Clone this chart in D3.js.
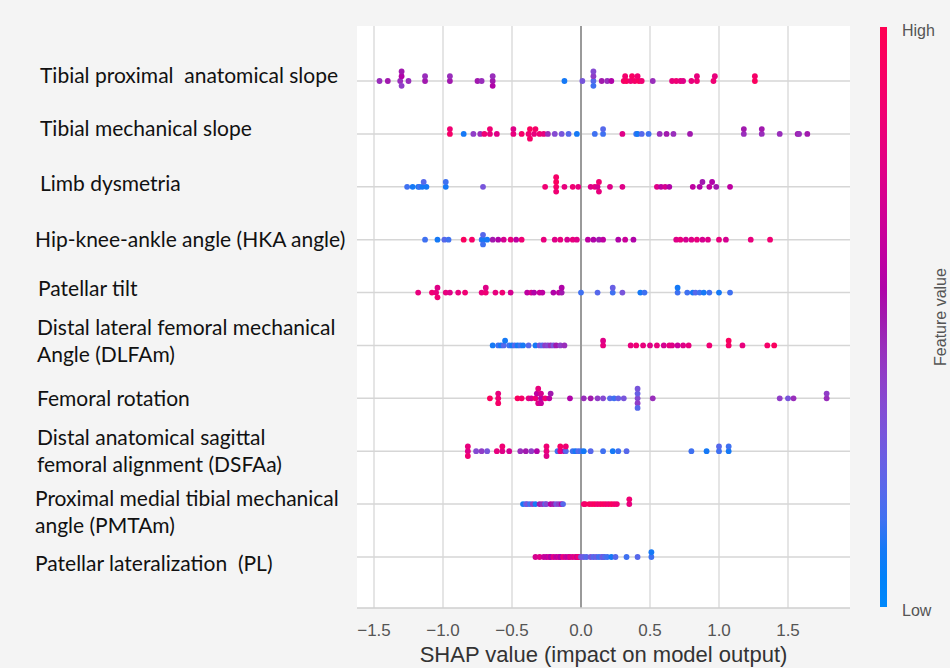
<!DOCTYPE html>
<html>
<head>
<meta charset="utf-8">
<script src="https://cdn.jsdelivr.net/npm/d3@7"></script>
<style>
  body { margin: 0; background: #f4f4f4; }
  svg { display: block; }
  .lbl { white-space: pre; }
</style>
</head>
<body>
<svg id="chart" width="950" height="668"></svg>
<script>
// feature labels, top to bottom (multi-line labels split into lines)
var featureLabels = [
  ["Tibial proximal  anatomical slope"],
  ["Tibial mechanical slope"],
  ["Limb dysmetria"],
  ["Hip-knee-ankle angle (HKA angle)"],
  ["Patellar tilt"],
  ["Distal lateral femoral mechanical", "Angle (DLFAm)"],
  ["Femoral rotation"],
  ["Distal anatomical sagittal", "femoral alignment (DSFAa)"],
  ["Proximal medial tibial mechanical", "angle (PMTAm)"],
  ["Patellar lateralization  (PL)"]
];

// [shap value, normalized feature value] per sample
var tibialProximalSlope = [[-1.46,0.45],[-1.40,0.5],[-1.31,0.45],[-1.30,0.55],[-1.30,0.4],[-1.30,0.5],[-1.25,0.45],[-1.13,0.5],[-1.13,0.45],[-0.95,0.5],[-0.95,0.45],[-0.75,0.5],[-0.72,0.45],[-0.64,0.5],[-0.64,0.45],[-0.64,0.55],[-0.12,0.1],[0.01,0.3],[0.09,0.2],[0.09,0.4],[0.09,0.15],[0.09,0.35],[0.15,0.5],[0.19,0.45],[0.22,0.55],[0.31,0.9],[0.33,0.95],[0.36,0.85],[0.39,0.9],[0.42,0.95],[0.44,0.85],[0.32,0.88],[0.37,0.92],[0.41,0.86],[0.52,0.45],[0.66,0.8],[0.69,0.85],[0.72,0.8],[0.74,0.75],[0.80,0.8],[0.84,0.85],[0.84,0.8],[0.96,0.85],[0.97,0.8],[1.26,0.95],[1.26,0.9]];
var tibialMechanicalSlope = [[-0.95,0.9],[-0.95,0.85],[-0.85,0.1],[-0.78,0.4],[-0.73,0.45],[-0.70,0.85],[-0.66,0.8],[-0.66,0.85],[-0.61,0.75],[-0.49,0.8],[-0.49,0.75],[-0.43,0.9],[-0.38,0.85],[-0.37,0.95],[-0.37,0.9],[-0.34,0.8],[-0.33,0.9],[-0.30,0.85],[-0.27,0.8],[-0.24,0.45],[-0.19,0.35],[-0.14,0.3],[-0.09,0.2],[-0.03,0.1],[0.10,0.15],[0.16,0.15],[0.16,0.2],[0.30,0.75],[0.40,0.15],[0.41,0.1],[0.44,0.2],[0.49,0.15],[0.57,0.45],[0.62,0.5],[0.67,0.45],[0.79,0.5],[1.18,0.45],[1.18,0.5],[1.31,0.45],[1.31,0.5],[1.44,0.45],[1.57,0.5],[1.58,0.45],[1.64,0.5]];
var limbDysmetria = [[-1.26,0.15],[-1.22,0.1],[-1.18,0.1],[-1.17,0.15],[-1.15,0.1],[-1.14,0.2],[-1.12,0.1],[-0.98,0.1],[-0.98,0.15],[-0.71,0.3],[-0.26,0.85],[-0.18,0.9],[-0.18,0.95],[-0.18,0.85],[-0.18,0.9],[-0.12,0.8],[-0.06,0.85],[-0.02,0.8],[0.07,0.75],[0.10,0.8],[0.12,0.7],[0.13,0.85],[0.13,0.8],[0.21,0.75],[0.30,0.75],[0.55,0.75],[0.58,0.6],[0.61,0.7],[0.64,0.55],[0.81,0.6],[0.86,0.55],[0.88,0.5],[0.93,0.6],[0.95,0.55],[0.98,0.5],[1.08,0.6]];
var hkaAngle = [[-1.13,0.15],[-1.04,0.1],[-0.99,0.2],[-0.96,0.15],[-0.85,0.95],[-0.79,0.9],[-0.72,0.15],[-0.71,0.1],[-0.71,0.2],[-0.71,0.15],[-0.68,0.1],[-0.64,0.5],[-0.60,0.55],[-0.56,0.7],[-0.51,0.8],[-0.47,0.6],[-0.43,0.85],[-0.27,0.8],[-0.19,0.75],[-0.15,0.8],[-0.10,0.7],[-0.06,0.8],[-0.03,0.75],[0.05,0.6],[0.09,0.55],[0.13,0.5],[0.16,0.6],[0.27,0.55],[0.32,0.65],[0.38,0.55],[0.69,0.75],[0.72,0.8],[0.76,0.7],[0.80,0.75],[0.84,0.8],[0.88,0.7],[0.92,0.75],[1.0,0.8],[1.05,0.7],[1.23,0.8],[1.37,0.85]];
var patellarTilt = [[-1.18,0.8],[-1.08,0.85],[-1.05,0.8],[-1.04,0.75],[-1.04,0.85],[-0.98,0.8],[-0.95,0.75],[-0.89,0.8],[-0.84,0.85],[-0.72,0.8],[-0.69,0.85],[-0.69,0.75],[-0.62,0.8],[-0.57,0.85],[-0.51,0.7],[-0.39,0.6],[-0.36,0.7],[-0.34,0.55],[-0.30,0.65],[-0.28,0.6],[-0.20,0.55],[-0.16,0.6],[-0.14,0.5],[-0.14,0.55],[0.0,0.15],[0.12,0.2],[0.23,0.15],[0.23,0.25],[0.30,0.3],[0.43,0.1],[0.46,0.15],[0.70,0.15],[0.70,0.1],[0.77,0.15],[0.81,0.1],[0.83,0.2],[0.86,0.15],[0.89,0.1],[0.93,0.15],[1.0,0.1],[1.08,0.15]];
var dlfam = [[-0.64,0.1],[-0.60,0.15],[-0.58,0.1],[-0.56,0.2],[-0.55,0.1],[-0.52,0.15],[-0.50,0.1],[-0.48,0.2],[-0.46,0.1],[-0.44,0.15],[-0.42,0.1],[-0.38,0.2],[-0.33,0.1],[-0.30,0.3],[-0.28,0.2],[-0.26,0.4],[-0.24,0.35],[-0.22,0.45],[-0.20,0.3],[-0.18,0.5],[-0.15,0.4],[-0.12,0.45],[0.16,0.8],[0.16,0.75],[0.36,0.8],[0.40,0.85],[0.45,0.8],[0.50,0.75],[0.55,0.8],[0.60,0.7],[0.64,0.8],[0.66,0.75],[0.70,0.65],[0.74,0.75],[0.78,0.8],[0.93,0.85],[1.07,0.9],[1.07,0.95],[1.17,0.8],[1.35,0.9],[1.40,0.95]];
var femoralRotation = [[-0.66,0.95],[-0.60,0.85],[-0.60,0.8],[-0.60,0.9],[-0.46,0.95],[-0.43,0.9],[-0.38,0.8],[-0.36,0.7],[-0.33,0.85],[-0.32,0.6],[-0.31,0.75],[-0.31,0.8],[-0.29,0.55],[-0.29,0.7],[-0.29,0.65],[-0.26,0.85],[-0.23,0.6],[-0.22,0.5],[-0.08,0.55],[0.02,0.45],[0.07,0.5],[0.12,0.4],[0.16,0.35],[0.21,0.2],[0.24,0.15],[0.27,0.25],[0.31,0.3],[0.41,0.35],[0.41,0.25],[0.41,0.4],[0.41,0.3],[0.41,0.2],[0.52,0.45],[1.44,0.4],[1.50,0.3],[1.54,0.45],[1.78,0.45],[1.78,0.4]];
var dsfaa = [[-0.82,0.75],[-0.82,0.8],[-0.82,0.85],[-0.76,0.35],[-0.72,0.4],[-0.68,0.3],[-0.61,0.8],[-0.57,0.75],[-0.57,0.85],[-0.52,0.7],[-0.44,0.45],[-0.40,0.5],[-0.36,0.4],[-0.32,0.55],[-0.25,0.8],[-0.25,0.85],[-0.25,0.75],[-0.17,0.15],[-0.15,0.8],[-0.15,0.9],[-0.12,0.6],[-0.11,0.2],[-0.11,0.85],[-0.06,0.15],[-0.04,0.1],[-0.02,0.2],[0.0,0.15],[0.02,0.1],[0.07,0.2],[0.16,0.15],[0.23,0.1],[0.27,0.15],[0.33,0.2],[0.80,0.15],[0.91,0.1],[1.00,0.15],[1.00,0.2],[1.07,0.1],[1.07,0.15]];
var pmtam = [[-0.42,0.1],[-0.40,0.2],[-0.39,0.3],[-0.37,0.15],[-0.35,0.4],[-0.33,0.1],[-0.30,0.5],[-0.28,0.45],[-0.26,0.2],[-0.25,0.35],[-0.22,0.6],[-0.20,0.5],[-0.18,0.3],[-0.16,0.4],[-0.14,0.55],[-0.13,0.2],[0.02,0.85],[0.03,0.9],[0.06,0.95],[0.08,0.9],[0.10,0.95],[0.12,0.85],[0.14,0.9],[0.16,0.95],[0.18,0.9],[0.20,0.85],[0.22,0.95],[0.24,0.9],[0.26,0.85],[0.35,0.8],[0.35,0.85]];
var patellarLateralization = [[-0.33,0.7],[-0.30,0.75],[-0.27,0.65],[-0.25,0.6],[-0.23,0.7],[-0.22,0.55],[-0.20,0.75],[-0.18,0.6],[-0.16,0.7],[-0.15,0.55],[-0.13,0.8],[-0.11,0.65],[-0.09,0.6],[-0.08,0.75],[-0.06,0.7],[-0.04,0.85],[-0.03,0.6],[-0.02,0.9],[-0.01,0.8],[0.0,0.3],[0.02,0.25],[0.04,0.2],[0.07,0.3],[0.09,0.2],[0.11,0.25],[0.13,0.15],[0.15,0.2],[0.16,0.3],[0.17,0.2],[0.19,0.15],[0.22,0.1],[0.25,0.2],[0.33,0.15],[0.41,0.2],[0.51,0.15],[0.51,0.1]];

var rows = [tibialProximalSlope, tibialMechanicalSlope, limbDysmetria, hkaAngle, patellarTilt,
            dlfam, femoralRotation, dsfaa, pmtam, patellarLateralization];

var xTicks = [-1.5, -1.0, -0.5, 0.0, 0.5, 1.0, 1.5];

var svg = d3.select("#chart");
var plot = {l: 357, r: 850, t: 26, b: 608};

var x = d3.scaleLinear().domain([-1.5, 1.5]).range([374, 788]);
var y = d3.scalePoint().domain(d3.range(rows.length)).range([81, 557]);

// shap's red_blue map: lch path, lightness dips to 40 in the middle
function color(t) {
  var l = t < 0.5 ? 54 - 28 * t : 40 + 28 * (t - 0.5);
  var c = 70 + 20 * t;
  var h = 267 + (380.3 - 267) * t;
  return d3.hcl(h % 360, c, l).formatHex();
}

// plot background
svg.append("rect")
  .attr("x", plot.l).attr("y", plot.t)
  .attr("width", plot.r - plot.l).attr("height", plot.b - plot.t)
  .attr("fill", "#fff");

// vertical grid
svg.append("g").selectAll("line").data(xTicks).enter().append("line")
  .attr("x1", d => x(d)).attr("x2", d => x(d))
  .attr("y1", plot.t).attr("y2", plot.b)
  .attr("stroke", "#dcdcdc").attr("stroke-width", 1.5);

// horizontal row lines
svg.append("g").selectAll("line").data(y.domain()).enter().append("line")
  .attr("x1", plot.l).attr("x2", plot.r)
  .attr("y1", d => y(d)).attr("y2", d => y(d))
  .attr("stroke", "#d6d6d6").attr("stroke-width", 1.5);

// zero line
svg.append("line")
  .attr("x1", x(0)).attr("x2", x(0))
  .attr("y1", plot.t).attr("y2", plot.b)
  .attr("stroke", "#9a9a9a").attr("stroke-width", 2);

// bottom spine
svg.append("line")
  .attr("x1", plot.l).attr("x2", plot.r)
  .attr("y1", plot.b).attr("y2", plot.b)
  .attr("stroke", "#cfcfcf").attr("stroke-width", 1.5);

// beeswarm, binned like shap's summary plot
function swarm(points) {
  var xs = points.map(p => p[0]);
  var lo = d3.min(xs), hi = d3.max(xs);
  var nbins = 100;
  var quant = xs.map(v => Math.round(nbins * (v - lo) / (hi - lo + 1e-8)));
  var inds = d3.range(points.length).sort((a, b) => quant[a] - quant[b] || a - b);
  var layer = 0, lastBin = -1, ys = [];
  inds.forEach(function(i) {
    if (quant[i] !== lastBin) layer = 0;
    ys[i] = Math.ceil(layer / 2) * ((layer % 2) * 2 - 1);
    layer++;
    lastBin = quant[i];
  });
  return points.map((p, i) => ({v: p[0], f: p[1], dy: ys[i]}));
}

var layerStep = 4.8;
var dots = svg.append("g");
rows.forEach(function(pts, r) {
  dots.append("g").selectAll("circle").data(swarm(pts)).enter().append("circle")
    .attr("cx", d => x(d.v))
    .attr("cy", d => y(r) - d.dy * layerStep)
    .attr("r", 2.9)
    .attr("fill", d => color(d.f));
});

// x axis tick labels
svg.append("g").selectAll("text").data(xTicks).enter().append("text")
  .attr("x", d => x(d)).attr("y", 636)
  .attr("text-anchor", "middle")
  .attr("font-family", "Liberation Sans, Arial, sans-serif")
  .attr("font-size", 17).attr("fill", "#555")
  .text(d => d3.format(".1f")(d));

svg.append("text")
  .attr("x", (plot.l + plot.r) / 2).attr("y", 662)
  .attr("text-anchor", "middle")
  .attr("font-family", "Liberation Sans, Arial, sans-serif")
  .attr("font-size", 22).attr("fill", "#333")
  .text("SHAP value (impact on model output)");

// feature labels (pasted-in text, so not exactly on the row lines)
var labelX = [40, 40, 40, 35, 38, 37, 37, 37, 35, 35];
var labelDy = [-5, -5, -3, 0, -4, -4, 0, 0, 8, 7];
var lineH = 27;
var labels = svg.append("g")
  .attr("font-family", "Lato, Calibri, sans-serif")
  .attr("font-size", 21).attr("fill", "#111");
featureLabels.forEach(function(lines, r) {
  var t = labels.append("text").attr("class", "lbl").attr("x", labelX[r]);
  var y0 = y(r) + labelDy[r] - (lines.length - 1) * lineH / 2;
  lines.forEach(function(s, k) {
    t.append("tspan").attr("x", labelX[r]).attr("y", y0 + k * lineH).attr("dy", "0.35em").text(s);
  });
});

// colour bar
var defs = svg.append("defs");
var grad = defs.append("linearGradient").attr("id", "cbar")
  .attr("x1", 0).attr("y1", 1).attr("x2", 0).attr("y2", 0);
d3.range(0, 1.0001, 0.05).forEach(function(t) {
  grad.append("stop").attr("offset", t).attr("stop-color", color(t));
});
svg.append("rect")
  .attr("x", 880).attr("y", 27).attr("width", 7).attr("height", 580)
  .attr("fill", "url(#cbar)");

var cbText = svg.append("g")
  .attr("font-family", "Liberation Sans, Arial, sans-serif")
  .attr("font-size", 16).attr("fill", "#555");
cbText.append("text").attr("x", 902).attr("y", 36).text("High");
cbText.append("text").attr("x", 902).attr("y", 616).text("Low");
cbText.append("text")
  .attr("transform", "translate(946,317) rotate(-90)")
  .attr("text-anchor", "middle")
  .text("Feature value");
</script>
</body>
</html>
